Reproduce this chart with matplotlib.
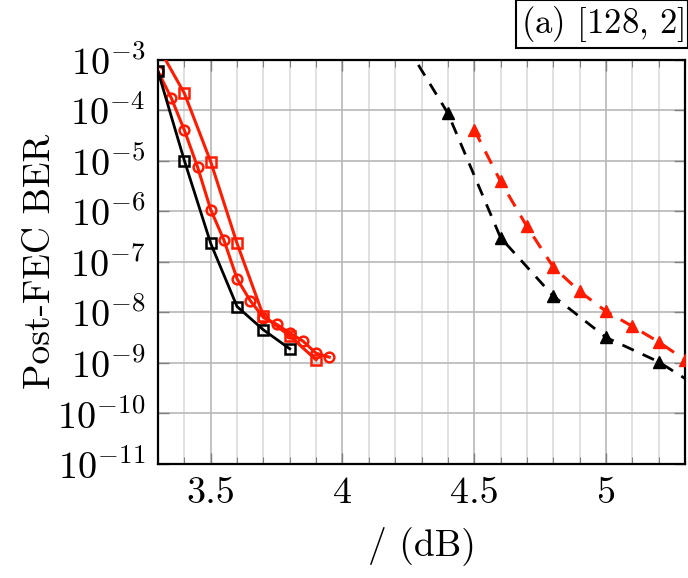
import numpy as np
import matplotlib
matplotlib.use("Agg")
import matplotlib.pyplot as plt
from matplotlib.ticker import FixedLocator, LogLocator, NullLocator, FixedFormatter

plt.rcParams['font.family'] = 'cmr10'
plt.rcParams['mathtext.fontset'] = 'cm'
plt.rcParams['axes.formatter.use_mathtext'] = True

# ---- data ----
# black solid, squares
x_blk_sq = [3.3, 3.4, 3.5, 3.6, 3.7, 3.8]
y_blk_sq = [5.8e-4, 1.0e-5, 2.3e-7, 1.3e-8, 4.5e-9, 1.9e-9]

# red solid, squares
x_red_sq = [3.3, 3.4, 3.5, 3.6, 3.7, 3.8, 3.9]
y_red_sq = [1.8e-3, 2.15e-4, 9.5e-6, 2.3e-7, 8.5e-9, 3.4e-9, 1.15e-9]

# red solid, circles
x_red_ci = [3.3, 3.35, 3.4, 3.45, 3.5, 3.55, 3.6, 3.65, 3.7, 3.75, 3.8, 3.85, 3.9, 3.95]
y_red_ci = [5.8e-4, 1.75e-4, 4.0e-5, 7.5e-6, 1.07e-6, 2.7e-7, 4.6e-8, 1.7e-8,
            7.9e-9, 5.8e-9, 3.9e-9, 2.7e-9, 1.55e-9, 1.3e-9]

# black dashed, triangles
x_blk_tr = [4.2, 4.4, 4.6, 4.8, 5.0, 5.2, 5.4]
y_blk_tr = [4.4e-3, 8.7e-5, 3.0e-7, 2.1e-8, 3.2e-9, 1.05e-9, 2.3e-10]

# red dashed, triangles
x_red_tr = [4.5, 4.6, 4.7, 4.8, 4.9, 5.0, 5.1, 5.2, 5.3]
y_red_tr = [4.1e-5, 3.9e-6, 5.0e-7, 7.9e-8, 2.6e-8, 1.05e-8, 5.3e-9, 2.6e-9, 1.15e-9]

x_ticks = [3.5, 4, 4.5, 5]
x_tick_labels = ['3.5', '4', '4.5', '5']
title_text = r'(a) $[128,\,2]$'

RED = '#ff1a00'

fig = plt.figure(figsize=(6.88, 5.78), dpi=100)
ax = fig.add_axes([0.2297, 0.1972, 0.7659, 0.6998])

ax.plot(x_blk_tr, y_blk_tr, color='black', lw=2.0, ls=(0, (4.5, 3.5)),
        marker='^', ms=8, mfc='black', mec='black', zorder=3)
ax.plot(x_red_tr, y_red_tr, color=RED, lw=2.2, ls=(0, (4.5, 3.5)),
        marker='^', ms=8, mfc=RED, mec=RED, zorder=3)
ax.plot(x_red_sq, y_red_sq, color=RED, lw=2.2,
        marker='s', ms=7, mfc='none', mec=RED, mew=1.8, zorder=4)
ax.plot(x_red_ci, y_red_ci, color=RED, lw=2.2,
        marker='o', ms=7, mfc='none', mec=RED, mew=1.8, zorder=4)
ax.plot(x_blk_sq, y_blk_sq, color='black', lw=2.0,
        marker='s', ms=7, mfc='none', mec='black', mew=1.8, zorder=5)

ax.set_yscale('log')
ax.set_xlim(3.3, 5.3)
ax.set_ylim(1e-11, 1e-3)

ax.xaxis.set_major_locator(FixedLocator(x_ticks))
ax.xaxis.set_major_formatter(FixedFormatter(x_tick_labels))
ax.xaxis.set_minor_locator(FixedLocator(np.arange(3.3, 5.31, 0.1)))
ax.yaxis.set_major_locator(LogLocator(base=10, numticks=20))
ax.yaxis.set_minor_locator(NullLocator())

ax.grid(True, which='major', color='#b8b8b8', lw=1.2)
ax.grid(True, which='minor', axis='x', color='#dcdcdc', lw=1.2)
ax.set_axisbelow(True)

ax.tick_params(which='both', direction='in', top=True, right=True,
               labelsize=27.5, colors='#808080', labelcolor='black')
ax.tick_params(which='major', length=8, width=1.0, pad=9)
ax.tick_params(which='minor', length=5, width=0.8)
for s in ax.spines.values():
    s.set_linewidth(1.6)

ax.set_ylabel('Post-FEC BER', fontsize=27, labelpad=0)
ax.set_xlabel('/ (dB)', fontsize=27, labelpad=12)

fig.text(0.994, 0.993, title_text, fontsize=25, ha='right', va='top',
         bbox=dict(boxstyle='square,pad=0.12', fc='white', ec='black', lw=1.5))

fig.savefig('out.png', dpi=100)
